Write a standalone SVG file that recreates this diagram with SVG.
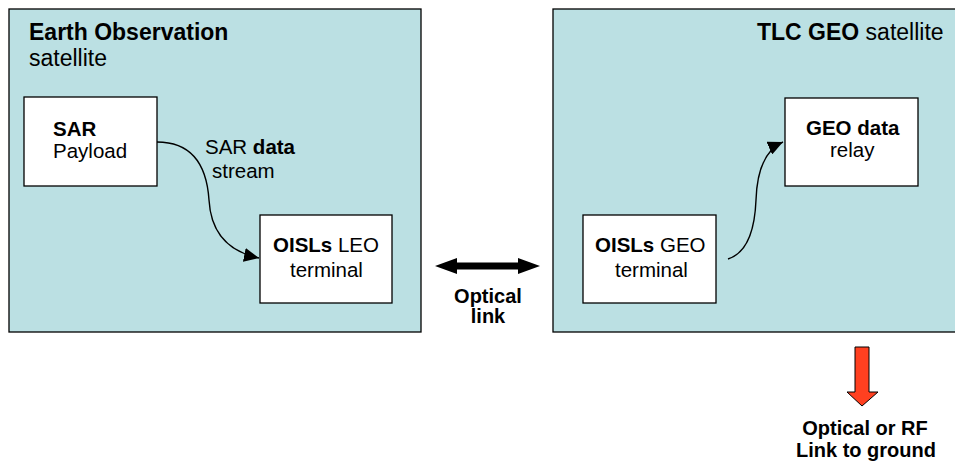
<svg xmlns="http://www.w3.org/2000/svg" width="955" height="462" viewBox="0 0 955 462">
  <style>
    .sat { fill: #BBE0E3; stroke: #000; stroke-width: 1.3; }
    .box { fill: #FFFFFF; stroke: #000; stroke-width: 1.3; }
    text { font-family: "Liberation Sans", Arial, sans-serif; fill: #000; }
    .title { font-size: 23px; }
    .lbl { font-size: 20.5px; }
    .cap { font-size: 20px; font-weight: bold; text-anchor: middle; }
    .b { font-weight: bold; }
    .flow { fill: none; stroke: #000; stroke-width: 1.4; }
  </style>
  <defs>
    <marker id="head" markerUnits="userSpaceOnUse" markerWidth="16" markerHeight="14" refX="15" refY="7" orient="auto">
      <path d="M0,0 L15,7 L0,14 Z" fill="#000"/>
    </marker>
  </defs>

  <rect width="955" height="462" fill="#FFFFFF"/>

  <!-- Earth observation satellite -->
  <g id="eo-satellite">
    <rect class="sat" x="9" y="9" width="412" height="323"/>
    <text class="title" x="29" y="40"><tspan class="b">Earth Observation</tspan></text>
    <text class="title" x="29" y="66">satellite</text>
  </g>

  <!-- TLC GEO satellite -->
  <g id="geo-satellite">
    <rect class="sat" x="553" y="9" width="410" height="323"/>
    <text class="title" x="757" y="40"><tspan class="b">TLC GEO</tspan> satellite</text>
  </g>

  <g id="sar-payload">
    <rect class="box" x="24" y="97" width="133" height="89"/>
    <text class="lbl b" x="53" y="136">SAR</text>
    <text class="lbl" x="53" y="158">Payload</text>
  </g>

  <g id="oisl-leo">
    <rect class="box" x="260" y="215" width="132" height="88"/>
    <text class="lbl" x="273" y="252"><tspan class="b">OISLs</tspan> LEO</text>
    <text class="lbl" x="290" y="277">terminal</text>
  </g>

  <g id="oisl-geo">
    <rect class="box" x="583" y="215" width="133" height="88"/>
    <text class="lbl" x="595" y="252"><tspan class="b">OISLs</tspan> GEO</text>
    <text class="lbl" x="615" y="277">terminal</text>
  </g>

  <g id="geo-relay">
    <rect class="box" x="785" y="98" width="133" height="88"/>
    <text class="lbl b" x="806" y="135">GEO data</text>
    <text class="lbl" x="830" y="157">relay</text>
  </g>

  <!-- connectors -->
  <g id="connectors">
    <path class="flow" d="M157,142 C195,142 207,170 209,200 C211,235 230,252 259,258" marker-end="url(#head)"/>
    <text class="lbl" x="205" y="154">SAR <tspan class="b">data</tspan></text>
    <text class="lbl" x="212" y="178">stream</text>

    <path class="flow" d="M728,259 C750,252 755,225 756,200 C757,170 765,150 783,142" marker-end="url(#head)"/>

    <!-- inter-satellite optical link -->
    <polygon points="435,266 457,258 457,262.5 518,262.5 518,258 540,266 518,274 518,269.5 457,269.5 457,274" fill="#000"/>
    <text class="cap" x="488" y="303">Optical</text>
    <text class="cap" x="488" y="323">link</text>

    <!-- downlink -->
    <polygon points="855,347 869,347 869,392 878,392 862,406 847,392 855,392" fill="#FF4020" stroke="#000" stroke-width="1"/>
    <text class="cap" x="865" y="435">Optical or RF</text>
    <text class="cap" x="866" y="457">Link to ground</text>
  </g>
</svg>
